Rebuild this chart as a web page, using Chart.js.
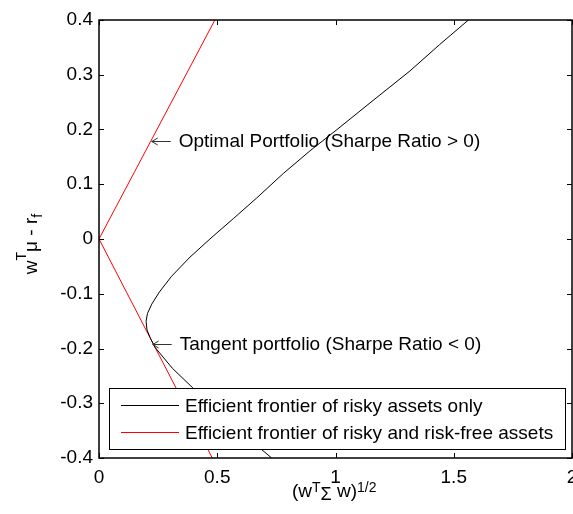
<!DOCTYPE html>
<html>
<head>
<meta charset="utf-8">
<script src="https://cdn.jsdelivr.net/npm/chart.js@4"></script>
<style>
  html, body { margin: 0; padding: 0; background: #fff; }
  #wrap { width: 573px; height: 514px; }
</style>
</head>
<body>
<div id="wrap"><canvas id="c" width="573" height="514"></canvas></div>
<script>
// Frontier of risky assets only: standard deviation vs excess return
const riskyStd = [1.562, 1.44, 1.315, 1.15, 0.998, 0.892, 0.78, 0.667, 0.57, 0.469, 0.385, 0.307, 0.255, 0.223, 0.205, 0.199, 0.203, 0.216, 0.237, 0.31, 0.399, 0.56, 0.73];
const riskyRet = [0.4, 0.355, 0.307, 0.25, 0.197, 0.161, 0.12, 0.075, 0.038, 0.0, -0.033, -0.068, -0.097, -0.119, -0.136, -0.15, -0.166, -0.18, -0.198, -0.236, -0.273, -0.338, -0.4];

// Frontier once the risk-free asset is added (two rays from the origin)
const mixedStd = [0.49, 0, 0.479];
const mixedRet = [0.4, 0, -0.4];

const seriesNames = ['Efficient frontier of risky assets only', 'Efficient frontier of risky and risk-free assets'];
const seriesColors = ['#000000', '#ff0000'];

const xTicks = [0, 0.5, 1, 1.5, 2];
const yTicks = [-0.4, -0.3, -0.2, -0.1, 0, 0.1, 0.2, 0.3, 0.4];

// Callouts pointing at the two tangency portfolios
const noteTexts = ['Optimal Portfolio (Sharpe Ratio > 0)', 'Tangent portfolio (Sharpe Ratio < 0)'];
const noteStd = [0.223, 0.227];
const noteRet = [0.179, -0.192];

const FONT = '"Liberation Sans", Arial, Helvetica, sans-serif';
const FS = 19;

function toPoints(xs, ys) { return xs.map((x, i) => ({ x: x, y: ys[i] })); }

const boxPlugin = {
  id: 'boxPlugin',
  afterDatasetsDraw(chart) {
    const ctx = chart.ctx, a = chart.chartArea;
    const xs = chart.scales.x, ys = chart.scales.y;
    ctx.save();
    ctx.strokeStyle = '#000';
    ctx.lineWidth = 1;
    // inward tick marks on all four sides
    ctx.beginPath();
    xTicks.forEach(v => {
      const px = Math.round(xs.getPixelForValue(v)) + 0.5;
      ctx.moveTo(px, a.bottom); ctx.lineTo(px, a.bottom - 5);
      ctx.moveTo(px, a.top); ctx.lineTo(px, a.top + 5);
    });
    yTicks.forEach(v => {
      const py = Math.round(ys.getPixelForValue(v)) + 0.5;
      ctx.moveTo(a.left, py); ctx.lineTo(a.left + 5, py);
      ctx.moveTo(a.right, py); ctx.lineTo(a.right - 5, py);
    });
    ctx.stroke();
    // axes box
    ctx.lineWidth = 1.5;
    ctx.strokeRect(Math.round(a.left), Math.round(a.top), Math.round(a.right - a.left), Math.round(a.bottom - a.top));

    // callouts with arrows
    ctx.strokeStyle = '#333';
    ctx.fillStyle = '#000';
    ctx.lineWidth = 1;
    ctx.font = FS + 'px ' + FONT;
    ctx.textBaseline = 'alphabetic';
    ctx.textAlign = 'left';
    noteTexts.forEach((t, i) => {
      const px = xs.getPixelForValue(noteStd[i]);
      const py = Math.round(ys.getPixelForValue(noteRet[i])) + 0.5;
      ctx.beginPath();
      ctx.moveTo(px, py); ctx.lineTo(px + 19, py);
      ctx.moveTo(px + 6, py - 3.5); ctx.lineTo(px, py); ctx.lineTo(px + 6, py + 3.5);
      ctx.stroke();
      ctx.fillText(t, px + 27, py + 5);
    });

    // legend box
    const lx = 109.5, ly = 388.5, lw = 456, lh = 61;
    ctx.fillStyle = '#fff';
    ctx.fillRect(lx, ly, lw, lh);
    ctx.strokeStyle = '#000';
    ctx.strokeRect(lx, ly, lw, lh);
    seriesNames.forEach((name, i) => {
      const cy = 405.5 + i * 27;
      ctx.strokeStyle = seriesColors[i];
      ctx.beginPath();
      ctx.moveTo(121, cy); ctx.lineTo(179, cy);
      ctx.stroke();
      ctx.fillStyle = '#000';
      ctx.textBaseline = 'middle';
      ctx.fillText(name, 185, cy + 1);
    });
    ctx.restore();
  },
  afterDraw(chart) {
    const ctx = chart.ctx;
    const small = 14;
    ctx.save();
    ctx.fillStyle = '#000';
    ctx.textBaseline = 'alphabetic';
    ctx.textAlign = 'left';
    // y axis title: w^T mu - r_f, rotated
    const yParts = [['w', 0, FS], ['T', -11, small], ['\u03bc - r', 0, FS], ['f', 5, small]];
    ctx.translate(37, 244);
    ctx.rotate(-Math.PI / 2);
    let total = 0;
    yParts.forEach(p => { ctx.font = p[2] + 'px ' + FONT; total += ctx.measureText(p[0]).width; });
    let cx = -total / 2;
    yParts.forEach(p => {
      ctx.font = p[2] + 'px ' + FONT;
      ctx.fillText(p[0], cx, p[1]);
      cx += ctx.measureText(p[0]).width;
    });
    ctx.setTransform(1, 0, 0, 1, 0, 0);
    // x axis title: (w^T Sigma w)^(1/2)
    const xParts = [['(w', 0, FS], ['T', -5, small], ['\u03a3', 3, FS - 1], [' w)', 0, FS], ['1/2', -5, small]];
    cx = 292;
    xParts.forEach(p => {
      ctx.font = p[2] + 'px ' + FONT;
      ctx.fillText(p[0], cx, 497 + p[1]);
      cx += ctx.measureText(p[0]).width;
    });
    ctx.restore();
  }
};

new Chart(document.getElementById('c'), {
  type: 'scatter',
  data: {
    datasets: [
      { label: seriesNames[0], data: toPoints(riskyStd, riskyRet), showLine: true, borderColor: seriesColors[0], borderWidth: 1, pointRadius: 0, tension: 0 },
      { label: seriesNames[1], data: toPoints(mixedStd, mixedRet), showLine: true, borderColor: seriesColors[1], borderWidth: 1, pointRadius: 0, tension: 0 }
    ]
  },
  options: {
    responsive: false,
    animation: false,
    layout: { padding: { top: 20, right: 1, left: 0, bottom: 0 } },
    plugins: { legend: { display: false }, tooltip: { enabled: false } },
    scales: {
      x: {
        type: 'linear', min: 0, max: 2,
        afterBuildTicks: s => { s.ticks = xTicks.map(v => ({ value: v })); },
        afterFit: s => { s.height = 56; s.paddingLeft = 0; s.paddingRight = 0; },
        grid: { display: false, drawTicks: false },
        border: { display: false },
        ticks: { color: '#000', padding: 8, maxRotation: 0, font: { family: FONT, size: FS }, callback: v => String(v) }
      },
      y: {
        type: 'linear', min: -0.4, max: 0.4,
        afterBuildTicks: s => { s.ticks = yTicks.map(v => ({ value: v })); },
        afterFit: s => { s.width = 99; s.paddingTop = 0; s.paddingBottom = 0; },
        grid: { display: false, drawTicks: false },
        border: { display: false },
        ticks: { color: '#000', padding: 6, font: { family: FONT, size: FS }, callback: v => String(Math.round(v * 10) / 10) }
      }
    }
  },
  plugins: [boxPlugin]
});
</script>
</body>
</html>
